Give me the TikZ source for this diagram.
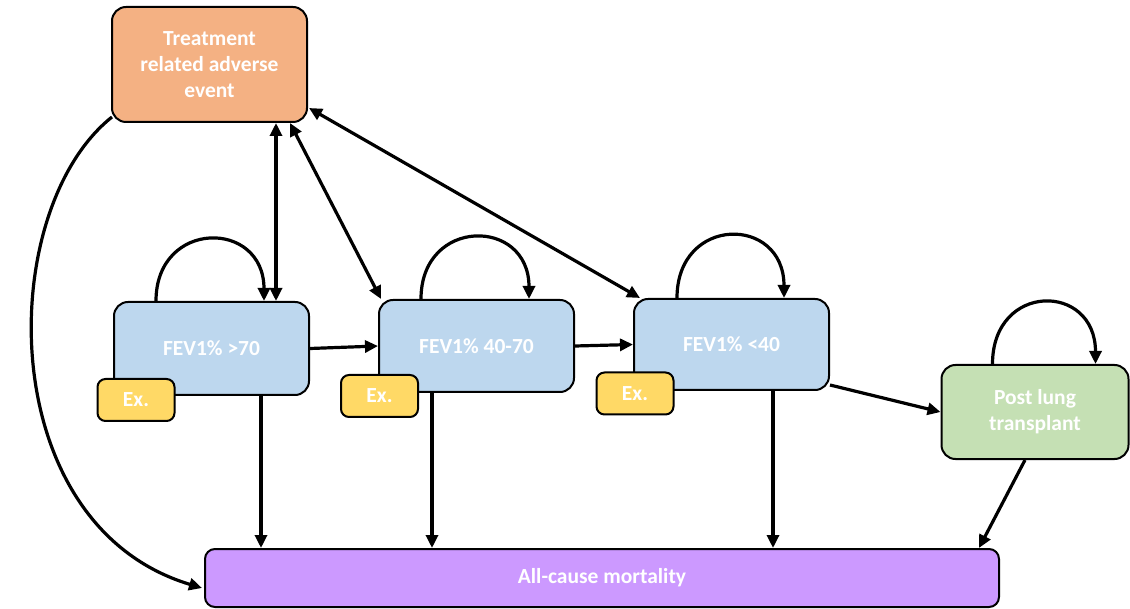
\documentclass[tikz,border=0pt]{standalone}
\usepackage{fontspec}
\setmainfont{Carlito}
\usetikzlibrary{arrows.meta,calc}
\definecolor{corange}{HTML}{F4B183}
\definecolor{cblue}{HTML}{BDD7EE}
\definecolor{cyellow}{HTML}{FFD966}
\definecolor{cgreen}{HTML}{C5E0B4}
\definecolor{cpurple}{HTML}{CC99FF}
\begin{document}
\begin{tikzpicture}[x=1pt,y=-1pt,
  box/.style={draw=black,line width=2pt,rounded corners=14pt,text=white,
    font=\fontsize{21.5}{26}\selectfont\bfseries,align=center,inner sep=0pt},
  exbox/.style={box,rounded corners=8pt,fill=cyellow,minimum width=77pt,minimum height=42pt},
  conn/.style={line width=3.2pt,-{Triangle[length=13pt,width=12pt]}},
  dconn/.style={line width=3.2pt,{Triangle[length=13pt,width=12pt]}-{Triangle[length=13pt,width=12pt]}}]
\useasboundingbox (0,0) rectangle (1130,609);
\node[box,fill=corange,minimum width=195pt,minimum height=115pt] (T) at (209.5,64.5) {Treatment\\related adverse\\event};
\node[box,fill=cblue,minimum width=195pt,minimum height=93pt] (F1) at (211.5,348.5) {FEV1\% >70};
\node[box,fill=cblue,minimum width=195pt,minimum height=92pt] (F2) at (476.5,346) {FEV1\% 40-70};
\node[box,fill=cblue,minimum width=195pt,minimum height=91pt] (F3) at (731.5,344.5) {FEV1\% <40};
\node[exbox] (E1) at (136,400) {Ex.};
\node[exbox] (E2) at (379.5,396) {Ex.};
\node[exbox] (E3) at (635,393.5) {Ex.};
\node[box,fill=cgreen,minimum width=187pt,minimum height=94pt] (PL) at (1035,412) {Post lung\\transplant};
\node[box,fill=cpurple,minimum width=794pt,minimum height=58pt,rounded corners=10pt] (AC) at (602,578) {All-cause mortality};
% double arrows from treatment
\draw[dconn] ($(T.south)+(66.5,0)$) -- ($(F1.north)+(64.5,0)$);
\draw[dconn] ($(T.south)+(80.5,0)$) -- ($(F2.north west)+(3,0)$);
\draw[dconn] ($(T.south east)+(1,-15)$) -- ($(F3.north west)+(7,0)$);
% transitions
\draw[conn] (F1.east) -- (F2.west);
\draw[conn] (F2.east) -- (F3.west);
\draw[conn] ($(F3.south east)+(0,-6)$) -- (PL.west);
% self loops
\draw[conn] ($(F1.north west)+(43,0)$) .. controls +(0,-82) and +(0,-82) .. ($(F1.north west)+(151,0)$);
\draw[conn] ($(F2.north west)+(43,0)$) .. controls +(0,-82) and +(0,-82) .. ($(F2.north west)+(151,0)$);
\draw[conn] ($(F3.north west)+(44,0)$) .. controls +(0,-83) and +(0,-83) .. ($(F3.north west)+(151,0)$);
\draw[conn] ($(PL.north west)+(52,0)$) .. controls +(0,-82) and +(0,-82) .. ($(PL.north west)+(155,0)$);
% to mortality
\coordinate (d1) at ($(F1.south)+(49.5,0)$);
\coordinate (d2) at ($(F2.south)+(-44.5,0)$);
\coordinate (d3) at ($(F3.south)+(41.5,0)$);
\draw[conn] (d1) -- (d1 |- AC.north);
\draw[conn] (d2) -- (d2 |- AC.north);
\draw[conn] (d3) -- (d3 |- AC.north);
\draw[conn] ($(PL.south)+(-10,0)$) -- ($(AC.north east)+(-21,0)$);
\draw[conn] ($(T.south west)+(1,-6)$) .. controls (-5,210) and (-8,525) .. ($(AC.west)+(-2,10)$);
\end{tikzpicture}
\end{document}
